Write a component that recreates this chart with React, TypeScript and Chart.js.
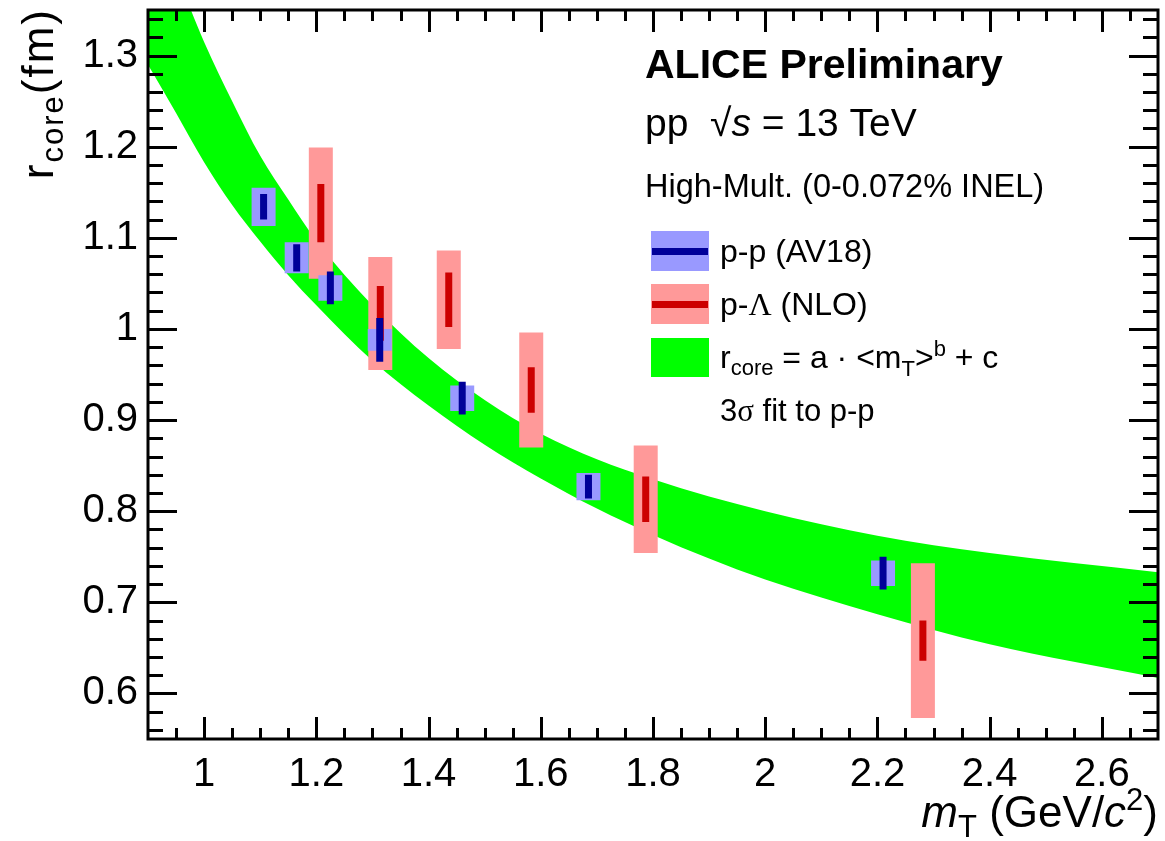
import React, { useEffect, useRef } from 'react';
import { Chart, registerables } from 'chart.js';

Chart.register(...registerables);

const W = 1165;
const H = 841;

// Axis ticks and labels
const X_TICKS = [1, 1.2, 1.4, 1.6, 1.8, 2, 2.2, 2.4, 2.6];
const X_TICK_LABELS = ['1', '1.2', '1.4', '1.6', '1.8', '2', '2.2', '2.4', '2.6'];
const Y_TICKS = [0.6, 0.7, 0.8, 0.9, 1, 1.1, 1.2, 1.3];
const Y_TICK_LABELS = ['0.6', '0.7', '0.8', '0.9', '1', '1.1', '1.2', '1.3'];

// p-p (AV18)
const PP_MT = [1.106, 1.165, 1.225, 1.313, 1.46, 1.685, 2.21];
const PP_R = [1.134, 1.078, 1.045, 0.988, 0.924, 0.827, 0.732];
const PP_STAT = [0.014, 0.015, 0.018, 0.024, 0.018, 0.013, 0.018];
const PP_SYST = [0.021, 0.017, 0.014, 0.012, 0.014, 0.015, 0.014];

// p-Lambda (NLO)
const PL_MT = [1.208, 1.314, 1.436, 1.583, 1.787, 2.281];
const PL_R = [1.127, 1.017, 1.032, 0.933, 0.813, 0.658];
const PL_STAT = [0.032, 0.03, 0.03, 0.025, 0.025, 0.022];
const PL_SYST = [0.072, 0.062, 0.054, 0.063, 0.059, 0.085];

// 3 sigma fit band to p-p (edges)
const BAND_MT = [0.9, 0.95, 1.0, 1.05, 1.1, 1.15, 1.2, 1.3, 1.4, 1.5, 1.6, 1.7, 1.8, 1.9, 2.0, 2.2, 2.4, 2.7];
const BAND_UPPER = [1.46, 1.39, 1.315, 1.25, 1.19, 1.142, 1.097, 1.026, 0.968, 0.922, 0.885, 0.857, 0.835, 0.816, 0.8, 0.773, 0.754, 0.733];
const BAND_LOWER = [1.29, 1.237, 1.183, 1.136, 1.096, 1.059, 1.026, 0.965, 0.916, 0.873, 0.836, 0.803, 0.774, 0.748, 0.725, 0.687, 0.654, 0.617];

const SANS = "'Liberation Sans', Arial, Helvetica, sans-serif";
const SERIF = "'Liberation Serif', 'Times New Roman', serif";

type Seg = { t: string; size: number; italic?: boolean; bold?: boolean; serif?: boolean; dy?: number };

function fontOf(s: Seg) {
  return `${s.italic ? 'italic ' : ''}${s.bold ? 'bold ' : ''}${s.size}px ${s.serif ? SERIF : SANS}`;
}

function drawRich(ctx: CanvasRenderingContext2D, segs: Seg[], x: number, y: number, align: 'left' | 'right') {
  let total = 0;
  for (const s of segs) {
    ctx.font = fontOf(s);
    total += ctx.measureText(s.t).width;
  }
  let cx = align === 'right' ? x - total : x;
  ctx.textAlign = 'left';
  ctx.textBaseline = 'alphabetic';
  for (const s of segs) {
    ctx.font = fontOf(s);
    ctx.fillText(s.t, cx, y + (s.dy || 0));
    cx += ctx.measureText(s.t).width;
  }
}

function verticalSegments(mt: number[], r: number[], err: number[]) {
  const pts: { x: number; y: number | null }[] = [];
  mt.forEach((x, i) => {
    pts.push({ x, y: r[i] - err[i] }, { x, y: r[i] + err[i] }, { x, y: null });
  });
  return pts;
}

const decorPlugin = {
  id: 'decor',
  afterDraw(chart: any) {
    const { ctx, chartArea: a, scales } = chart;
    const xs = scales.x;
    const ys = scales.y;
    ctx.save();
    ctx.strokeStyle = '#000';
    ctx.lineWidth = 3;
    ctx.lineCap = 'butt';
    // ticks
    ctx.beginPath();
    for (let k = 18; k <= 54; k++) {
      const v = k * 0.05;
      const major = X_TICKS.some((t) => Math.abs(t - v) < 1e-6);
      const len = major ? 22 : 11;
      const px = Math.round(xs.getPixelForValue(v)) + 0.5;
      if (px < a.left + 2 || px > a.right - 2) continue;
      ctx.moveTo(px, a.bottom);
      ctx.lineTo(px, a.bottom - len);
      ctx.moveTo(px, a.top);
      ctx.lineTo(px, a.top + len);
    }
    for (let k = 28; k <= 67; k++) {
      const v = k * 0.02;
      const major = Y_TICKS.some((t) => Math.abs(t - v) < 1e-6);
      const len = major ? 29 : 15;
      const py = Math.round(ys.getPixelForValue(v)) + 0.5;
      if (py < a.top + 2 || py > a.bottom - 2) continue;
      ctx.moveTo(a.left, py);
      ctx.lineTo(a.left + len, py);
      ctx.moveTo(a.right, py);
      ctx.lineTo(a.right - len, py);
    }
    ctx.stroke();
    ctx.strokeRect(a.left, a.top, a.right - a.left, a.bottom - a.top);

    ctx.fillStyle = '#000';
    // axis titles
    drawRich(
      ctx,
      [
        { t: 'm', size: 44, italic: true },
        { t: 'T', size: 31, dy: 10 },
        { t: ' (GeV/', size: 44 },
        { t: 'c', size: 44, italic: true },
        { t: '2', size: 31, dy: -17 },
        { t: ')', size: 44 },
      ],
      a.right,
      827,
      'right'
    );
    ctx.save();
    ctx.translate(53, 8);
    ctx.rotate(-Math.PI / 2);
    (ctx as any).letterSpacing = '2px';
    drawRich(
      ctx,
      [
        { t: 'r', size: 44 },
        { t: 'core', size: 31, dy: 10 },
        { t: '(fm)', size: 44 },
      ],
      0,
      0,
      'right'
    );
    (ctx as any).letterSpacing = '0px';
    ctx.restore();

    // header texts
    drawRich(ctx, [{ t: 'ALICE Preliminary', size: 41, bold: true }], 645, 78, 'left');
    drawRich(
      ctx,
      [
        { t: 'pp  ', size: 39 },
        { t: '\u221A', size: 39 },
        { t: 's', size: 39, italic: true },
        { t: ' = 13 TeV', size: 39 },
      ],
      645,
      136,
      'left'
    );
    drawRich(ctx, [{ t: 'High-Mult. (0-0.072% INEL)', size: 32.5 }], 645, 197, 'left');

    // legend
    const sx = 651;
    const sw = 58;
    ctx.fillStyle = '#9999ff';
    ctx.fillRect(sx, 231, sw, 40);
    ctx.fillStyle = '#000099';
    ctx.fillRect(sx + 1, 248, sw - 2, 7);
    ctx.fillStyle = '#ff9999';
    ctx.fillRect(sx, 284, sw, 40);
    ctx.fillStyle = '#cc0000';
    ctx.fillRect(sx + 1, 301, sw - 2, 7);
    ctx.fillStyle = '#00ff00';
    ctx.fillRect(sx, 338, sw, 39);

    ctx.fillStyle = '#000';
    const lx = 720;
    drawRich(ctx, [{ t: 'p-p (AV18)', size: 32 }], lx, 262, 'left');
    drawRich(
      ctx,
      [
        { t: 'p-', size: 32 },
        { t: '\u039B', size: 32, serif: true },
        { t: ' (NLO)', size: 32 },
      ],
      lx,
      315,
      'left'
    );
    drawRich(
      ctx,
      [
        { t: 'r', size: 32 },
        { t: 'core', size: 22, dy: 7 },
        { t: ' = a \u00B7 <m', size: 32 },
        { t: 'T', size: 22, dy: 8 },
        { t: '>', size: 32 },
        { t: 'b', size: 22, dy: -12 },
        { t: ' + c', size: 32 },
      ],
      lx,
      368,
      'left'
    );
    drawRich(
      ctx,
      [
        { t: '3', size: 31 },
        { t: '\u03C3', size: 31, serif: true },
        { t: ' fit to p-p', size: 31 },
      ],
      lx,
      421,
      'left'
    );
    ctx.restore();
  },
};

export default function App() {
  const ref = useRef<HTMLCanvasElement | null>(null);

  useEffect(() => {
    if (!ref.current) return;
    const band = (vals: number[]) => BAND_MT.map((x, i) => ({ x, y: vals[i] }));
    const lineBase = {
      type: 'line' as const,
      pointRadius: 0,
      pointHoverRadius: 0,
      borderCapStyle: 'butt' as const,
      tension: 0,
      fill: false,
      spanGaps: false,
    };
    const chart = new Chart(ref.current, {
      type: 'line',
      data: {
        datasets: [
          {
            type: 'line',
            label: 'fit upper',
            data: band(BAND_UPPER),
            borderColor: 'rgba(0,0,0,0)',
            borderWidth: 0,
            backgroundColor: '#00ff00',
            pointRadius: 0,
            fill: '+1',
            cubicInterpolationMode: 'monotone',
            order: 10,
          },
          {
            type: 'line',
            label: 'fit lower',
            data: band(BAND_LOWER),
            borderColor: 'rgba(0,0,0,0)',
            borderWidth: 0,
            pointRadius: 0,
            fill: false,
            cubicInterpolationMode: 'monotone',
            order: 9,
          },
          {
            ...lineBase,
            label: 'p-Λ syst',
            data: verticalSegments(PL_MT, PL_R, PL_SYST),
            borderColor: '#ff9999',
            borderWidth: 24,
            order: 6,
          },
          {
            ...lineBase,
            label: 'p-p syst',
            data: verticalSegments(PP_MT, PP_R, PP_SYST),
            borderColor: '#9999ff',
            borderWidth: 24,
            order: 5,
          },
          {
            ...lineBase,
            label: 'p-Λ stat',
            data: verticalSegments(PL_MT, PL_R, PL_STAT),
            borderColor: '#cc0000',
            borderWidth: 7,
            order: 4,
          },
          {
            ...lineBase,
            label: 'p-p stat',
            data: verticalSegments(PP_MT, PP_R, PP_STAT),
            borderColor: '#000099',
            borderWidth: 7,
            order: 3,
          },
        ] as any,
      },
      options: {
        responsive: false,
        maintainAspectRatio: false,
        devicePixelRatio: 1,
        animation: false,
        events: [],
        layout: { padding: { top: 10, right: 7, left: 0, bottom: 0 } },
        plugins: {
          legend: { display: false },
          tooltip: { enabled: false },
        },
        scales: {
          x: {
            type: 'linear',
            min: 0.9,
            max: 2.7,
            offset: false,
            grid: { display: false, drawTicks: false },
            border: { display: false },
            ticks: {
              autoSkip: false,
              maxRotation: 0,
              padding: 12,
              color: '#000',
              font: { family: SANS, size: 40 },
              callback: (_v: any, i: number) => X_TICK_LABELS[i],
            },
            afterBuildTicks: (s: any) => {
              s.ticks = X_TICKS.map((value) => ({ value }));
            },
            afterFit: (s: any) => {
              s.height = 102;
              s.paddingLeft = 0;
              s.paddingRight = 0;
            },
          },
          y: {
            type: 'linear',
            min: 0.55,
            max: 1.35,
            beginAtZero: false,
            grid: { display: false, drawTicks: false },
            border: { display: false },
            ticks: {
              autoSkip: false,
              padding: 10,
              color: '#000',
              font: { family: SANS, size: 40 },
              callback: (_v: any, i: number) => Y_TICK_LABELS[i],
            },
            afterBuildTicks: (s: any) => {
              s.ticks = Y_TICKS.map((value) => ({ value }));
            },
            afterFit: (s: any) => {
              s.width = 148;
              s.paddingTop = 0;
              s.paddingBottom = 0;
            },
          },
        },
      } as any,
      plugins: [decorPlugin],
    });
    return () => chart.destroy();
  }, []);

  return (
    <div style={{ position: 'absolute', left: 0, top: 0, width: W, height: H, background: '#fff' }}>
      <canvas ref={ref} width={W} height={H} style={{ width: W, height: H, display: 'block' }} />
    </div>
  );
}
